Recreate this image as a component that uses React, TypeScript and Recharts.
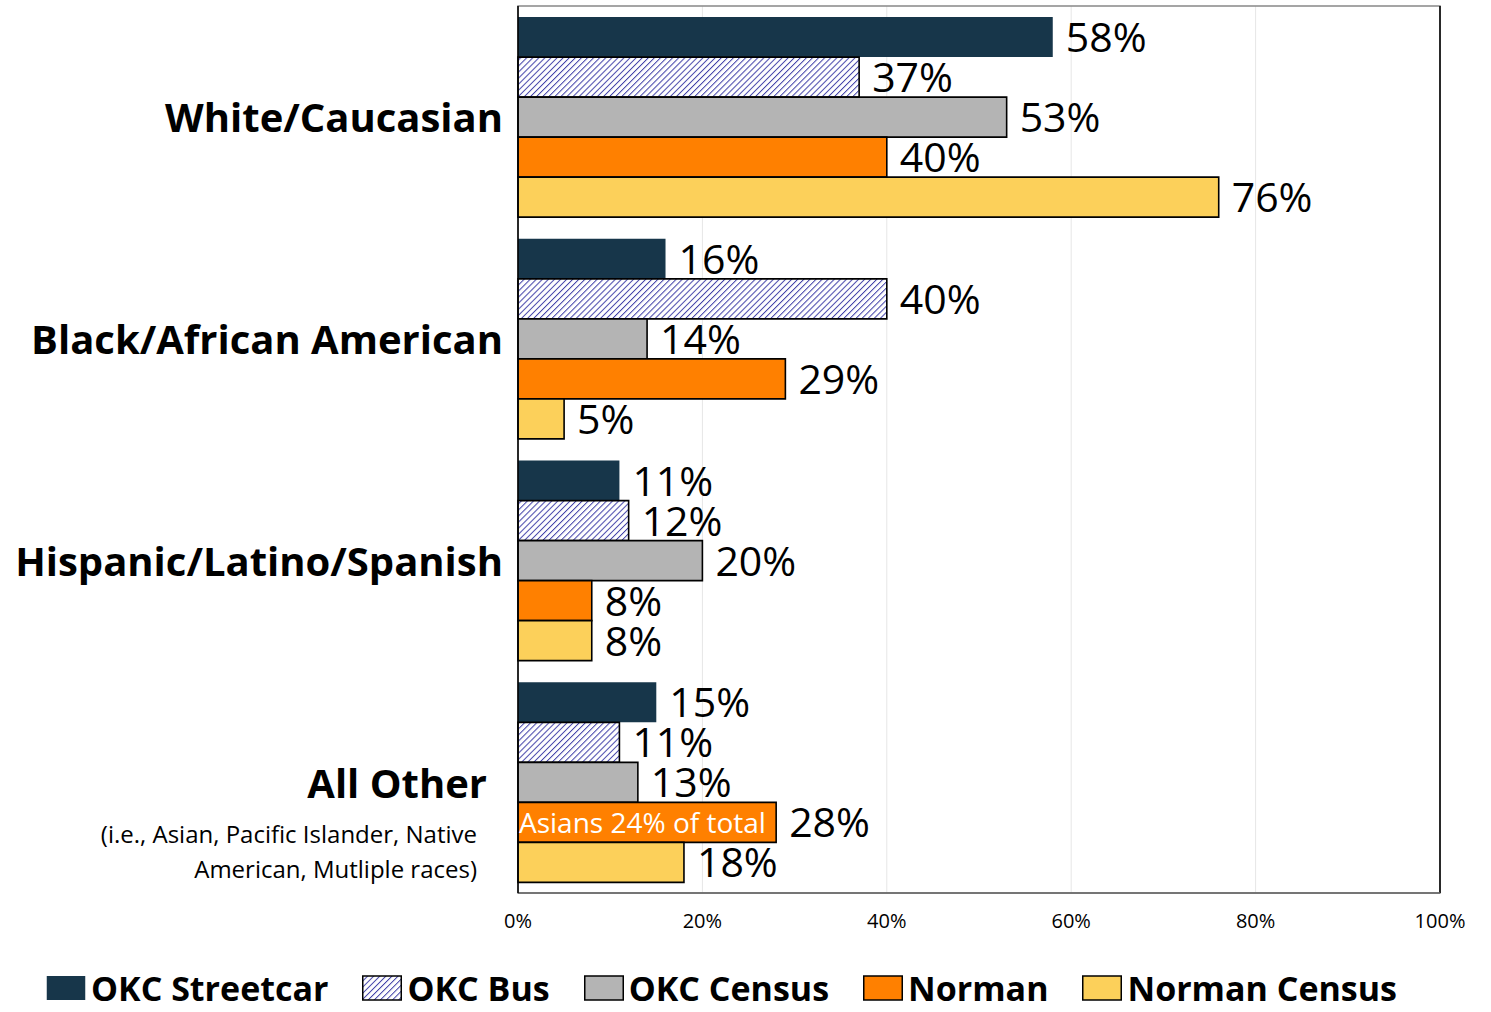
import React from "react";
import {
  BarChart,
  Bar,
  XAxis,
  YAxis,
  CartesianGrid,
  Legend,
  LabelList,
  ReferenceArea,
  ReferenceLine,
} from "recharts";

const categories = [
  "White/Caucasian",
  "Black/African American",
  "Hispanic/Latino/Spanish",
  "All Other",
];
const okcStreetcar = [58, 16, 11, 15];
const okcBus = [37, 40, 12, 11];
const okcCensus = [53, 14, 20, 13];
const norman = [40, 29, 8, 28];
const normanCensus = [76, 5, 8, 18];
const xTicks = [0, 20, 40, 60, 80, 100];
const allOtherNote = ["(i.e., Asian, Pacific Islander, Native", "American, Mutliple races)"];
const asianNote = "Asians 24% of total";

const seriesDefs = [
  { key: "streetcar", name: "OKC Streetcar", fill: "#17364A", stroke: "none" },
  { key: "bus", name: "OKC Bus", fill: "url(#hatch)", stroke: "#000" },
  { key: "census", name: "OKC Census", fill: "#B4B4B4", stroke: "#000" },
  { key: "norman", name: "Norman", fill: "#FF8000", stroke: "#000" },
  { key: "normanCensus", name: "Norman Census", fill: "#FCD05A", stroke: "#000" },
];

const data = categories.map((c, i) => ({
  category: c,
  streetcar: okcStreetcar[i],
  bus: okcBus[i],
  census: okcCensus[i],
  norman: norman[i],
  normanCensus: normanCensus[i],
}));

const FONT = "'Open Sans', sans-serif";

const CatTick = (props: any) => {
  const { x, y, payload } = props;
  const v = payload.value as string;
  if (v === "All Other") {
    return (
      <g>
        <text x={x - 31} y={y} textAnchor="end" dominantBaseline="central" fontFamily={FONT} fontWeight={700} fontSize={40} fill="#000">
          {v}
        </text>
        {allOtherNote.map((line, i) => (
          <text key={i} x={x - 41} y={y + 51 + i * 35} textAnchor="end" dominantBaseline="central" fontFamily={FONT} fontSize={24} fill="#000">
            {line}
          </text>
        ))}
      </g>
    );
  }
  return (
    <text x={x - 15} y={y} textAnchor="end" dominantBaseline="central" fontFamily={FONT} fontWeight={700} fontSize={40} fill="#000">
      {v}
    </text>
  );
};

const ValueLabel = (props: any) => {
  const { x, y, width, height, value, index, extra } = props;
  return (
    <g>
      <text x={x + width + 13} y={y + height / 2 - 1} dominantBaseline="central" fontFamily={FONT} fontSize={41} fill="#000">
        {value}%
      </text>
      {extra && index === 3 ? (
        <text x={x + 1} y={y + height / 2} dominantBaseline="central" fontFamily={FONT} fontSize={28} fill="#fff">
          {asianNote}
        </text>
      ) : null}
    </g>
  );
};

const LegendContent = () => (
  <div style={{ display: "flex", alignItems: "center", paddingLeft: 46, paddingTop: 24, height: 66, boxSizing: "border-box", fontFamily: FONT, whiteSpace: "nowrap" }}>
    {seriesDefs.map((s) => (
      <div key={s.key} style={{ display: "flex", alignItems: "center", marginRight: 34, flexShrink: 0 }}>
        <svg width={40} height={26} style={{ marginRight: 5 }}>
          <rect x={0.75} y={1} width={38.5} height={24} fill={s.fill} stroke={s.stroke === "none" ? "none" : "#000"} strokeWidth={1.5} />
        </svg>
        <span style={{ fontWeight: 700, fontSize: 34, color: "#000", lineHeight: "42px" }}>{s.name}</span>
      </div>
    ))}
  </div>
);

export default function App() {
  return (
    <div style={{ position: "absolute", left: 0, top: 0, background: "#fff" }}>
      <svg width={0} height={0} style={{ position: "absolute" }}>
        <defs>
          <pattern id="hatch" width={4.3} height={4.3} patternUnits="userSpaceOnUse" patternTransform="rotate(45)">
            <rect width={4.3} height={4.3} fill="#fff" />
            <line x1={0} y1={0} x2={0} y2={4.3} stroke="#4040A8" strokeWidth={2} />
          </pattern>
        </defs>
      </svg>
      <BarChart
        width={1491}
        height={1012}
        data={data}
        layout="vertical"
        margin={{ top: 6, right: 51, left: 0, bottom: 3 }}
        barCategoryGap="5%"
        barGap={0}
      >
        <CartesianGrid horizontal={false} stroke="#E6E6E6" />
        <ReferenceArea x1={0} x2={100} fill="none" stroke="#888" strokeWidth={1.5} />
        <ReferenceLine x={100} stroke="#000" strokeWidth={1.5} />
        <XAxis
          type="number"
          domain={[0, 100]}
          ticks={xTicks}
          tickFormatter={(v: number) => `${v}%`}
          tickLine={false}
          axisLine={{ stroke: "#666", strokeWidth: 1.5 }}
          tick={{ fill: "#000", fontSize: 20, fontFamily: FONT }}
          tickMargin={15}
          height={50}
          interval={0}
        />
        <YAxis
          type="category"
          dataKey="category"
          width={518}
          tickLine={false}
          tickSize={0}
          tickMargin={0}
          axisLine={{ stroke: "#000", strokeWidth: 1.5 }}
          tick={<CatTick />}
          interval={0}
        />
        <Legend verticalAlign="bottom" align="left" wrapperStyle={{ width: 1491, left: 0 }} content={<LegendContent />} />
        {seriesDefs.map((s) => (
          <Bar
            key={s.key}
            dataKey={s.key}
            name={s.name}
            fill={s.fill}
            stroke={s.stroke}
            strokeWidth={s.stroke === "none" ? 0 : 1.6}
            isAnimationActive={false}
          >
            <LabelList dataKey={s.key} content={<ValueLabel extra={s.key === "norman"} />} />
          </Bar>
        ))}
      </BarChart>
    </div>
  );
}
